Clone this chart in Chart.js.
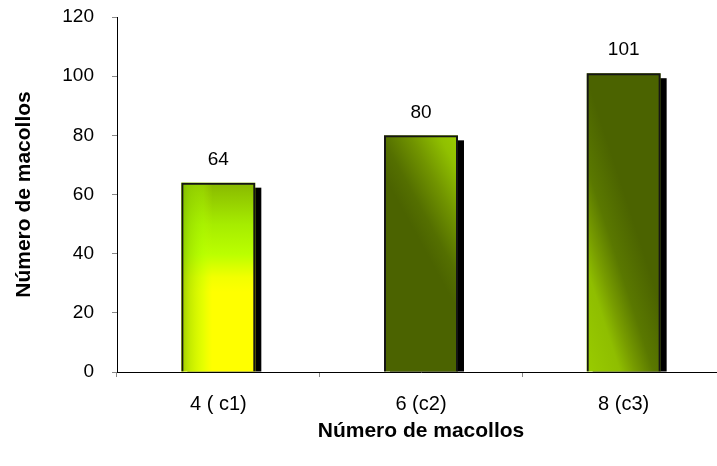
<!DOCTYPE html>
<html>
<head>
<meta charset="utf-8">
<script src="https://cdn.jsdelivr.net/npm/chart.js@4.4.1/dist/chart.umd.min.js"></script>
<style>
  html, body { margin: 0; padding: 0; background: #fff; overflow: hidden; }
  #wrap { width: 730px; height: 466px; }
</style>
</head>
<body>
<div id="wrap"><canvas id="chart"></canvas></div>
<script>
// Categories and tiller counts
const categories = ['4 ( c1)', '6 (c2)', '8 (c3)'];
const tillers = [64, 80, 101];
const yTicks = [0, 20, 40, 60, 80, 100, 120];
const axisTitle = 'Número de macollos';

const FONT = '"Liberation Sans", Arial, sans-serif';

// Gradient fill for each bar, built from its own geometry
function barGradient(ctx, i, l, r, top, base) {
  const w = r - l;
  let g;
  if (i === 0) {
    g = ctx.createLinearGradient(0, top, 0, base);
    g.addColorStop(0, '#88b800');
    g.addColorStop(0.22, '#a6ec00');
    g.addColorStop(0.38, '#bbff00');
    g.addColorStop(0.5, '#f2ff00');
    g.addColorStop(0.58, '#ffff00');
    g.addColorStop(1, '#ffff00');
  } else if (i === 1) {
    // bright wedge in the upper right corner
    g = ctx.createLinearGradient(r, top, r - 1.0 * w, top + 0.55 * w);
    g.addColorStop(0, '#9acc00');
    g.addColorStop(0.2, '#90c000');
    g.addColorStop(0.5, '#719400');
    g.addColorStop(0.8, '#546f00');
    g.addColorStop(1, '#4b6300');
  } else {
    // bright foot on the lower left side
    g = ctx.createLinearGradient(l, base, l + 1.17 * w, base - 0.38 * w);
    g.addColorStop(0, '#99cc00');
    g.addColorStop(0.35, '#8fbe00');
    g.addColorStop(0.5, '#789d00');
    g.addColorStop(0.7, '#5a7800');
    g.addColorStop(1, '#4b6300');
  }
  return g;
}

// Drop shadow, gradient fill and value labels for the bars
const barSkin = {
  id: 'barSkin',
  beforeDatasetsDraw(chart) {
    const ctx = chart.ctx;
    chart.getDatasetMeta(0).data.forEach((bar, i) => {
      const { x, y, base, width } = bar.getProps(['x', 'y', 'base', 'width'], true);
      const l = x - width / 2, r = x + width / 2;
      ctx.save();
      ctx.fillStyle = '#000';
      ctx.fillRect(l + 6, y + 5, width, base - y - 5);
      ctx.fillStyle = barGradient(ctx, i, l, r, y, base);
      ctx.fillRect(l, y, width, base - y);
      if (i === 0) {
        const s = ctx.createLinearGradient(l, 0, r, 0);
        s.addColorStop(0, 'rgba(125,185,0,0.75)');
        s.addColorStop(0.12, 'rgba(150,220,0,0.55)');
        s.addColorStop(0.3, 'rgba(175,255,0,0.3)');
        s.addColorStop(0.42, 'rgba(200,255,0,0)');
        s.addColorStop(1, 'rgba(200,255,0,0)');
        ctx.fillStyle = s;
        ctx.fillRect(l, y, width, base - y);
      }
      ctx.restore();
    });
  },
  afterDatasetsDraw(chart) {
    const ctx = chart.ctx;
    const ds = chart.data.datasets[0];
    chart.getDatasetMeta(0).data.forEach((bar, i) => {
      const { x, y } = bar.getProps(['x', 'y'], true);
      ctx.save();
      ctx.fillStyle = '#000';
      ctx.font = '19px ' + FONT;
      ctx.textAlign = 'center';
      ctx.textBaseline = 'middle';
      ctx.fillText(String(ds.data[i]), x, y - 23);
      ctx.restore();
    });
  }
};

new Chart(document.getElementById('chart'), {
  type: 'bar',
  data: {
    labels: categories,
    datasets: [{
      data: tillers,
      backgroundColor: 'rgba(0,0,0,0)',
      borderColor: '#151515',
      borderWidth: 2,
      barPercentage: 0.73,
      categoryPercentage: 0.5
    }]
  },
  options: {
    responsive: true,
    maintainAspectRatio: false,
    animation: false,
    layout: { padding: { top: 17, right: 5, left: 0, bottom: 0 } },
    plugins: { legend: { display: false }, tooltip: { enabled: false } },
    scales: {
      x: {
        afterFit(s) { s.height = 94; },
        grid: { display: true, drawOnChartArea: false, offset: true, tickLength: 5, color: '#888' },
        border: { display: true, color: '#000', width: 1 },
        ticks: { color: '#000', font: { family: FONT, size: 20 }, padding: 15 },
        title: { display: true, text: axisTitle, color: '#000', font: { family: FONT, size: 21, weight: 'bold' }, padding: { top: 0, bottom: 22 } }
      },
      y: {
        min: 0, max: 120,
        afterFit(s) { s.width = 117; s.paddingTop = 0; s.paddingBottom = 0; },
        afterBuildTicks(s) { s.ticks = yTicks.map(v => ({ value: v })); },
        grid: { display: true, drawOnChartArea: false, tickLength: 5, color: '#888' },
        border: { display: true, color: '#000', width: 1 },
        ticks: { color: '#000', font: { family: FONT, size: 19 }, padding: 18 },
        title: { display: true, text: axisTitle, color: '#000', font: { family: FONT, size: 21, weight: 'bold' }, padding: { top: 12, bottom: 0 } }
      }
    }
  },
  plugins: [barSkin]
});
</script>
</body>
</html>
